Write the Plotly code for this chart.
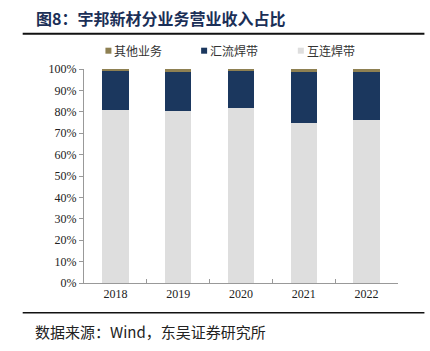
import plotly.graph_objects as go

years = ["2018", "2019", "2020", "2021", "2022"]
hulian = [81.0, 80.5, 81.8, 75.0, 76.2]      # 互连焊带
huiliu = [17.9, 17.9, 17.1, 23.4, 22.4]      # 汇流焊带
qita = [1.1, 1.6, 1.1, 1.6, 1.4]             # 其他业务
y_ticks = [0, 10, 20, 30, 40, 50, 60, 70, 80, 90, 100]
legend_names = ["其他业务", "汇流焊带", "互连焊带"]
legend_colors = ["#8E8052", "#1B375E", "#DEDEDE"]

serif = "Liberation Serif, Noto Sans CJK SC"
cjk = "Noto Sans CJK SC"

W, H = 430, 351
L, R, T, B = 83.5, 398.5, 69.3, 283.3
PW, PH = R - L, B - T


def px(x):
    return (x - L) / PW


def py(y):
    return (B - y) / PH


fig = go.Figure()
fig.add_trace(go.Bar(x=years, y=hulian, name="互连焊带", marker_color="#DEDEDE",
                     marker_line_width=0, width=0.42))
fig.add_trace(go.Bar(x=years, y=huiliu, name="汇流焊带", marker_color="#1B375E",
                     marker_line_width=0, width=0.42))
fig.add_trace(go.Bar(x=years, y=qita, name="其他业务", marker_color="#8E8052",
                     marker_line_width=0, width=0.42))

fig.update_layout(
    barmode="stack",
    width=W, height=H,
    margin=dict(l=L, r=W - R, t=T, b=H - B, autoexpand=False),
    paper_bgcolor="white", plot_bgcolor="white",
    showlegend=False,
    xaxis=dict(type="category", showline=True, linecolor="#999", linewidth=1,
               ticks="inside", ticklen=4, tickcolor="#999", tickson="boundaries",
               tickfont=dict(family=serif, size=12, color="#222"), showgrid=False),
    yaxis=dict(range=[0, 100], tickvals=y_ticks, ticktext=[f"{v}%" for v in y_ticks],
               showline=True, linecolor="#999", linewidth=1, ticks="outside", ticklen=4,
               tickcolor="#999", showgrid=False, zeroline=False,
               tickfont=dict(family=serif, size=12, color="#222")),
)

# manual legend
leg_x = [105, 201, 298]
leg_y = 51
for x0, name, col in zip(leg_x, legend_names, legend_colors):
    fig.add_shape(type="rect", xref="paper", yref="paper", x0=px(x0), x1=px(x0 + 6),
                  y0=py(leg_y + 3), y1=py(leg_y - 3), fillcolor=col, line_width=0)
    fig.add_annotation(text=name, xref="paper", yref="paper", x=px(x0 + 7), y=py(leg_y),
                       xanchor="left", yanchor="middle", showarrow=False,
                       font=dict(family=cjk, size=12, color="#333"))

fig.add_annotation(text="<b>图8：宇邦新材分业务营业收入占比</b>", xref="paper", yref="paper",
                   x=px(33), y=py(18.5), xanchor="left", yanchor="middle",
                   showarrow=False, font=dict(family=cjk, size=16, color="#1B2F57"))
fig.add_annotation(text="数据来源：Wind，东吴证券研究所", xref="paper", yref="paper",
                   x=px(32), y=py(332), xanchor="left", yanchor="middle",
                   showarrow=False, font=dict(family=cjk, size=15, color="#222"))

fig.add_shape(type="line", xref="paper", yref="paper", x0=px(22), x1=px(425),
              y0=py(34), y1=py(34), line=dict(color="#111", width=2))
fig.add_shape(type="line", xref="paper", yref="paper", x0=px(22), x1=px(425),
              y0=py(313), y1=py(313), line=dict(color="#111", width=1.5))

fig.write_html("out.html")
